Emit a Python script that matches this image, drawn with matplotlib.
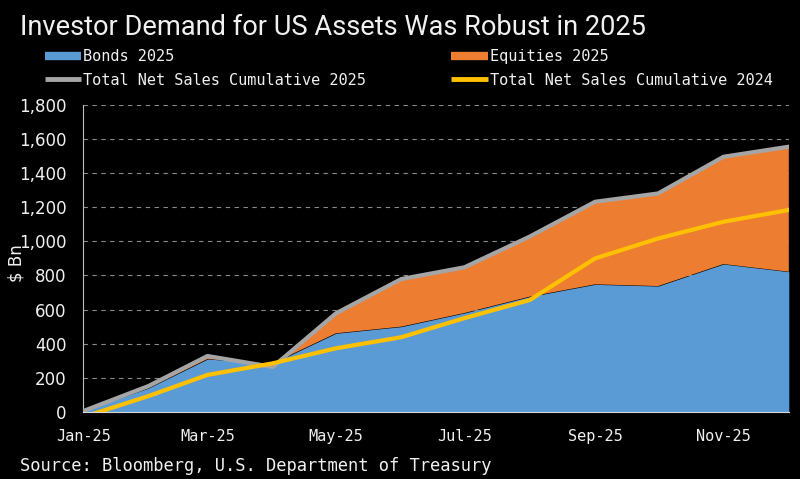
import pandas as pd
from matplotlib import pyplot as plt
from matplotlib import ticker
from matplotlib import dates as mdates
from matplotlib.lines import Line2D
import numpy as np

# monthly points, 2025
DATES = ["2025-01-01", "2025-02-01", "2025-03-01", "2025-04-01", "2025-05-01", "2025-06-01",
         "2025-07-01", "2025-08-01", "2025-09-01", "2025-10-01", "2025-11-01", "2025-12-02"]
BONDS_2025 = [5, 140, 310, 285, 461, 500, 580, 676, 748, 738, 867, 822]
TOTAL_2025 = [5, 152, 328, 264, 578, 779, 848, 1028, 1232, 1281, 1496, 1555]
TOTAL_2024 = [-30, 93, 217, 285, 373, 438, 550, 656, 900, 1017, 1115, 1184]

TITLE = "Investor Demand for US Assets Was Robust in 2025"
SOURCE = "Source: Bloomberg, U.S. Department of Treasury"
LABELS = ["Bonds 2025", "Total Net Sales Cumulative 2025", "Equities 2025", "Total Net Sales Cumulative 2024"]

BLUE = "#5b9bd5"
ORANGE = "#ed7d31"
GRAY = "#a5a5a5"
YELLOW = "#ffc000"
TEXT = "#f0f0f0"
BG = "black"

MONO = ["DejaVu Sans Mono"]
TITLE_FONT = ["Roboto", "DejaVu Sans"]
TITLE_WIDTH = 625  # px, as in the reference

DPI = 100


def main():
    x = pd.to_datetime(DATES)
    bonds = np.array(BONDS_2025, dtype=float)
    total = np.array(TOTAL_2025, dtype=float)

    fig = plt.figure(figsize=(8.0, 4.79), dpi=DPI, facecolor=BG)
    ax = fig.add_axes([0.104, 0.140, 0.882, 0.641], facecolor=BG)

    # areas
    ax.fill_between(x, 0, bonds, color=BLUE, lw=0, zorder=2)
    ax.fill_between(x, bonds, total, where=total >= bonds, interpolate=True,
                    color=ORANGE, lw=0, zorder=2)
    ax.plot(x, total, color=GRAY, lw=3, zorder=3, solid_joinstyle="round")
    ax.plot(x, TOTAL_2024, color=YELLOW, lw=3, zorder=4, solid_joinstyle="round")

    ax.set_ylim(0, 1800)
    ax.set_xlim(x[0], x[-1])
    ax.yaxis.set_major_locator(ticker.MultipleLocator(200))
    ax.yaxis.set_major_formatter(ticker.FuncFormatter(lambda v, pos: "{:,.0f}".format(v)))
    ax.xaxis.set_major_locator(mdates.MonthLocator(bymonth=[1, 3, 5, 7, 9, 11]))
    ax.xaxis.set_major_formatter(mdates.DateFormatter("%b-%y"))

    ax.grid(axis="y", color="#8a8a8a", lw=0.8, ls=(0, (4, 4)), zorder=1)
    for s in ["top", "right"]:
        ax.spines[s].set_visible(False)
    ax.spines["left"].set_color("#bfbfbf")
    ax.spines["bottom"].set_color("#d9d9d9")
    ax.spines["bottom"].set_zorder(5)

    ax.tick_params(axis="y", length=0, pad=12, labelcolor=TEXT, labelsize=12)
    ax.tick_params(axis="x", direction="in", length=5, color="#d9d9d9", pad=12,
                   labelcolor=TEXT, labelsize=11)
    for lab in ax.get_xticklabels():
        lab.set_family(MONO)

    ax.set_ylabel("$ Bn", color=TEXT, fontsize=12)
    ax.yaxis.set_label_coords(-0.082, 0.485)

    # legend
    handles = [
        Line2D([], [], color=BLUE, lw=6, solid_capstyle="butt"),
        Line2D([], [], color=GRAY, lw=3.5, solid_capstyle="butt"),
        Line2D([], [], color=ORANGE, lw=6, solid_capstyle="butt"),
        Line2D([], [], color=YELLOW, lw=3.5, solid_capstyle="butt"),
    ]
    fig.legend(handles, LABELS, ncol=2, loc="upper left", bbox_to_anchor=(0.056, 0.897),
               frameon=False, borderpad=0, borderaxespad=0, handlelength=2.4,
               handletextpad=0.1, columnspacing=5.6, labelspacing=0.55,
               labelcolor=TEXT, prop={"family": MONO, "size": 11})

    title = fig.text(0.025, 0.927, TITLE, color=TEXT, fontsize=22, family=TITLE_FONT, va="baseline")
    # fit title width to the reference
    fig.canvas.draw()
    w = title.get_window_extent().width
    title.set_fontsize(22 * TITLE_WIDTH / w)

    fig.text(0.025, 0.017, SOURCE, color=TEXT, fontsize=12.3, family=MONO, va="baseline")

    fig.savefig("out.png", dpi=DPI, facecolor=BG)


if __name__ == "__main__":
    main()
